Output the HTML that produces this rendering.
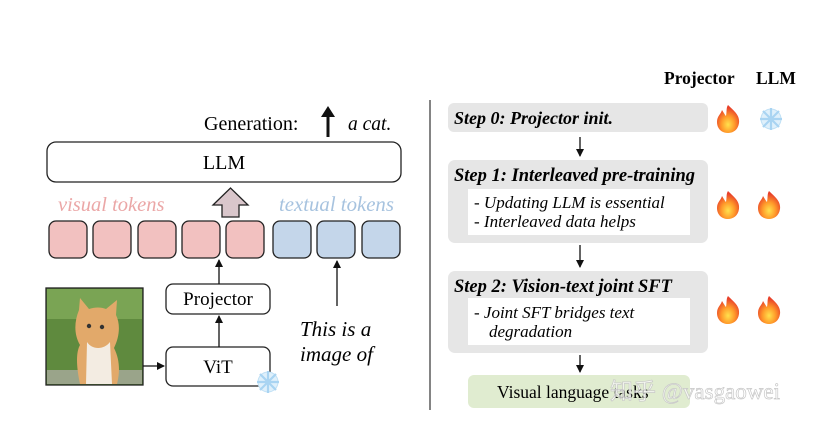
<!DOCTYPE html>
<html><head><meta charset="utf-8"><style>
html,body{margin:0;padding:0;background:#fff;}
svg{display:block;}
text{font-family:"Liberation Serif",serif;}
</style></head><body>
<svg width="834" height="426" viewBox="0 0 834 426" xmlns="http://www.w3.org/2000/svg">
<defs>
<marker id="ah" markerWidth="8" markerHeight="8" refX="7" refY="4" orient="auto" markerUnits="userSpaceOnUse"><path d="M0,0 L8,4 L0,8 z" fill="#111"/></marker>
<radialGradient id="fl" cx="0.5" cy="0.7" r="0.6"><stop offset="0" stop-color="#ffe14d"/><stop offset="0.5" stop-color="#ff9a2a"/><stop offset="1" stop-color="#e8402a"/></radialGradient>
<g id="flame"><path d="M0,-14 C6,-8 12,-4 11,4 C10,11 5,14 0,14 C-6,14 -11,10 -11,3 C-11,-3 -7,-5 -6,-9 C-4,-6 -3,-4 -2,-3 C-1,-8 -2,-11 0,-14 z" fill="url(#fl)"/></g>
<g id="snow" stroke="#a9d4f2" stroke-width="2.2" fill="none"><circle r="10" fill="#dff0fb" stroke="#bfe0f5" stroke-width="1"/><path d="M-11,0H11M0,-11V11M-8,-8L8,8M-8,8L8,-8"/></g>
</defs>

<!-- LEFT -->
<text x="204" y="130" font-size="20">Generation:</text>
<line x1="328" y1="137" x2="328" y2="115" stroke="#111" stroke-width="3"/>
<path d="M321,117 L328,106 L335,117 z" fill="#111"/>
<text x="348" y="130" font-size="19.5" font-style="italic">a cat.</text>

<rect x="47" y="142" width="354" height="40" rx="9" fill="#fff" stroke="#222" stroke-width="1.3"/>
<text x="224" y="169" font-size="20" text-anchor="middle">LLM</text>

<text x="58" y="211" font-size="20.5" font-style="italic" fill="#eba7a7">visual tokens</text>
<text x="279" y="211" font-size="20.8" font-style="italic" fill="#a7c3df">textual tokens</text>
<path d="M222,217 L222,205 L213,205 L230.5,188 L248,205 L239,205 L239,217 z" fill="#d9c6cb" stroke="#222" stroke-width="1.3"/>

<g stroke="#222" stroke-width="1.3">
<rect x="49" y="221" width="38" height="37" rx="7" fill="#f2c1c0"/>
<rect x="93" y="221" width="38" height="37" rx="7" fill="#f2c1c0"/>
<rect x="138" y="221" width="38" height="37" rx="7" fill="#f2c1c0"/>
<rect x="182" y="221" width="38" height="37" rx="7" fill="#f2c1c0"/>
<rect x="226" y="221" width="38" height="37" rx="7" fill="#f2c1c0"/>
<rect x="273" y="221" width="38" height="37" rx="7" fill="#c4d6ea"/>
<rect x="317" y="221" width="38" height="37" rx="7" fill="#c4d6ea"/>
<rect x="362" y="221" width="38" height="37" rx="7" fill="#c4d6ea"/>
</g>

<!-- cat image -->
<rect x="46" y="288" width="97" height="97" fill="#5f8a3e" stroke="#222" stroke-width="1.3"/>
<rect x="47" y="289" width="95" height="30" fill="#7aa454"/>
<rect x="47" y="370" width="95" height="14" fill="#9aa48a"/>
<path d="M80,384 C76,365 76,352 80,345 C74,335 74,322 79,310 L80,298 L89,309 C95,307 101,307 106,309 L117,300 L116,315 C121,325 119,338 114,348 C120,360 120,372 117,384 z" fill="#e2a96a"/>
<path d="M87,342 C92,350 104,350 110,342 L112,384 L86,384 z" fill="#f3ece2"/>
<circle cx="89" cy="326" r="2.2" fill="#333"/><circle cx="102" cy="327" r="2.2" fill="#333"/>

<rect x="166" y="284" width="104" height="30" rx="7" fill="#fff" stroke="#222" stroke-width="1.3"/>
<text x="218" y="305" font-size="19" text-anchor="middle">Projector</text>
<rect x="166" y="347" width="104" height="39" rx="7" fill="#fff" stroke="#222" stroke-width="1.3"/>
<text x="218" y="373" font-size="19" text-anchor="middle">ViT</text>
<use href="#snow" x="268" y="382"/>

<line x1="219" y1="284" x2="219" y2="260" stroke="#111" stroke-width="1.3" marker-end="url(#ah)"/>
<line x1="219" y1="347" x2="219" y2="316" stroke="#111" stroke-width="1.3" marker-end="url(#ah)"/>
<line x1="143" y1="366" x2="164" y2="366" stroke="#111" stroke-width="1.3" marker-end="url(#ah)"/>
<line x1="337" y1="306" x2="337" y2="261" stroke="#111" stroke-width="1.3" marker-end="url(#ah)"/>

<text x="300" y="336" font-size="21" font-style="italic">This is a</text>
<text x="300" y="361" font-size="21" font-style="italic">image of</text>

<line x1="430" y1="100" x2="430" y2="410" stroke="#333" stroke-width="1.2"/>

<!-- RIGHT -->
<text x="664" y="84" font-size="17.5" font-weight="bold">Projector</text>
<text x="756" y="84" font-size="17.5" font-weight="bold">LLM</text>

<rect x="448" y="103" width="260" height="29" rx="6" fill="#e6e6e6"/>
<text x="454" y="124" font-size="18" font-weight="bold" font-style="italic">Step 0: Projector init.</text>
<use href="#flame" x="728" y="119"/>
<use href="#snow" x="771" y="119"/>

<line x1="580" y1="137" x2="580" y2="156" stroke="#111" stroke-width="1.3" marker-end="url(#ah)"/>

<rect x="448" y="160" width="260" height="83" rx="7" fill="#e6e6e6"/>
<text x="454" y="181" font-size="18.5" font-weight="bold" font-style="italic">Step 1: Interleaved pre-training</text>
<rect x="468" y="189" width="222" height="46" fill="#fff"/>
<text x="474" y="208" font-size="17" font-style="italic">-  Updating LLM is essential</text>
<text x="474" y="227" font-size="17" font-style="italic">-  Interleaved data helps</text>
<use href="#flame" x="728" y="205"/>
<use href="#flame" x="769" y="205"/>

<line x1="580" y1="245" x2="580" y2="267" stroke="#111" stroke-width="1.3" marker-end="url(#ah)"/>

<rect x="448" y="271" width="260" height="82" rx="7" fill="#e6e6e6"/>
<text x="454" y="292" font-size="18.5" font-weight="bold" font-style="italic">Step 2: Vision-text joint SFT</text>
<rect x="468" y="298" width="222" height="47" fill="#fff"/>
<text x="474" y="318" font-size="17" font-style="italic">-  Joint SFT bridges text</text>
<text x="489" y="337" font-size="17" font-style="italic">degradation</text>
<use href="#flame" x="728" y="310"/>
<use href="#flame" x="769" y="310"/>

<line x1="580" y1="355" x2="580" y2="372" stroke="#111" stroke-width="1.3" marker-end="url(#ah)"/>

<rect x="468" y="375" width="222" height="33" rx="6" fill="#e0ecd0"/>
<text x="497" y="398" font-size="17.5">Visual language tasks</text>
<text x="610" y="399" font-size="23" fill="#fff" fill-opacity="0.7" stroke="#c8c8c8" stroke-width="0.7" font-family="Liberation Sans, Noto Sans CJK SC, sans-serif">知乎 @vasgaowei</text>
</svg>
</body></html>
